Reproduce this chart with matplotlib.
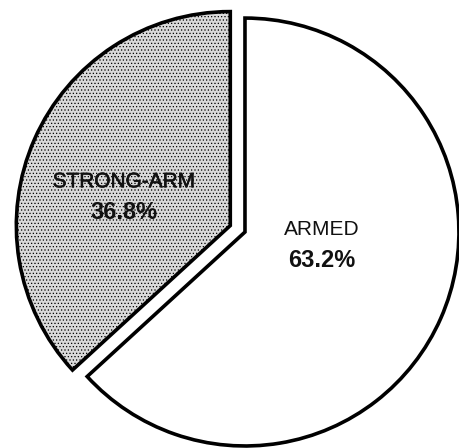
import matplotlib
matplotlib.use('Agg')
import matplotlib.pyplot as plt
import matplotlib.patheffects as pe

labels = ['STRONG-ARM', 'ARMED']
shares = [36.8, 63.2]
pct_labels = ['36.8%', '63.2%']

plt.rcParams['font.family'] = ['Liberation Sans', 'DejaVu Sans']
plt.rcParams['hatch.linewidth'] = 0.5

fig = plt.figure(figsize=(4.6, 4.48), dpi=100)
ax = fig.add_axes([0, 0, 1, 1])

wedges, _ = ax.pie(shares, startangle=90, counterclock=True,
                   explode=[0.075, 0], radius=1,
                   colors=['#dadada', 'white'],
                   wedgeprops=dict(edgecolor='black', linewidth=2.6))
wedges[0].set_hatch('.....')

# label positions (data units, pie radius = 1)
pos = [(-0.565, 0.235, 0.09), (0.36, 0.01, -0.135)]
thick = [pe.withStroke(linewidth=0.4, foreground='#111111')]
for (x, y1, y2), name, pct in zip(pos, labels, pct_labels):
    ax.text(x, y1, name, ha='center', va='center', fontsize=15, color='#111111',
            path_effects=thick if name == 'STRONG-ARM' else None)
    ax.text(x, y2, pct, ha='center', va='center', fontsize=17,
            fontweight='bold', color='#111111')

ax.set_xlim(-1.145, 1.005)
ax.set_ylim(-1.009, 1.084)
ax.set_aspect('equal')
ax.axis('off')

plt.savefig('out.png', dpi=100, facecolor='white')
